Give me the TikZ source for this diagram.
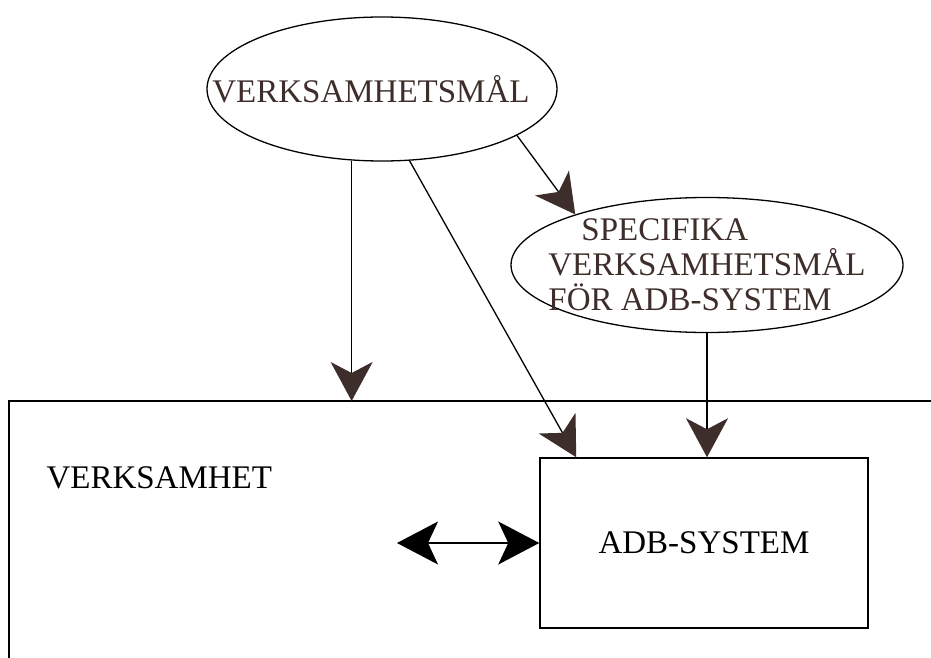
\documentclass[tikz,border=0pt]{standalone}
\usepackage{fontspec}
\setmainfont{Liberation Serif}
\usetikzlibrary{positioning, arrows.meta, shapes.geometric}
\definecolor{brn}{RGB}{62,46,43}

\begin{document}
\begin{tikzpicture}[x=1pt, y=-1pt,
            goal/.style={ellipse, draw, line width=1.3pt, text=brn, inner xsep=-40pt, inner ysep=0pt, font=\fontsize{33}{35}\selectfont},
            box/.style={rectangle, draw, line width=1.5pt, minimum width=328pt, minimum height=170pt, font=\fontsize{33}{35}\selectfont},
            arrow/.style={-{Stealth[length=39pt, width=42pt, inset=11pt, color=brn]}, line width=1.3pt},
            dblarrow/.style={{Stealth[length=41pt, width=43pt, inset=10pt]}-{Stealth[length=41pt, width=43pt, inset=10pt]}, line width=1.5pt}]

        \useasboundingbox (0,0) rectangle (931,658);

        % the business (open frame)
        \coordinate (vtop) at (9,401);
        \draw[line width=1.5pt] (931,401) -- (vtop) -- (9,658);
        \node[anchor=base west, font=\fontsize{33}{35}\selectfont] (vhet) at (43,488) {VERKSAMHET};

        \node[goal, minimum width=350pt, minimum height=144pt] (vm) at (382,89) {\hspace*{-22pt}VERKSAMHETSMÅL};
        \node[goal, minimum width=392pt, minimum height=135pt, align=left] (spec) at (707,265)
            {\hspace*{33pt}SPECIFIKA\\VERKSAMHETSMÅL\\FÖR ADB-SYSTEM};
        \node[box] (adb) at (704,543) {ADB-SYSTEM};
        \coordinate (lft) at (397,543);

        \draw[arrow] (vm.-113) -- (vm.-113 |- vtop);
        \draw[arrow] (vm.-69) -- ([xshift=37pt]adb.north west);
        \draw[arrow] (vm.-19) -- (spec.159);
        \draw[arrow] (spec.south) -- (spec.south |- adb.north);
        \draw[dblarrow] (lft) -- (adb.west);
    \end{tikzpicture}
\end{document}
